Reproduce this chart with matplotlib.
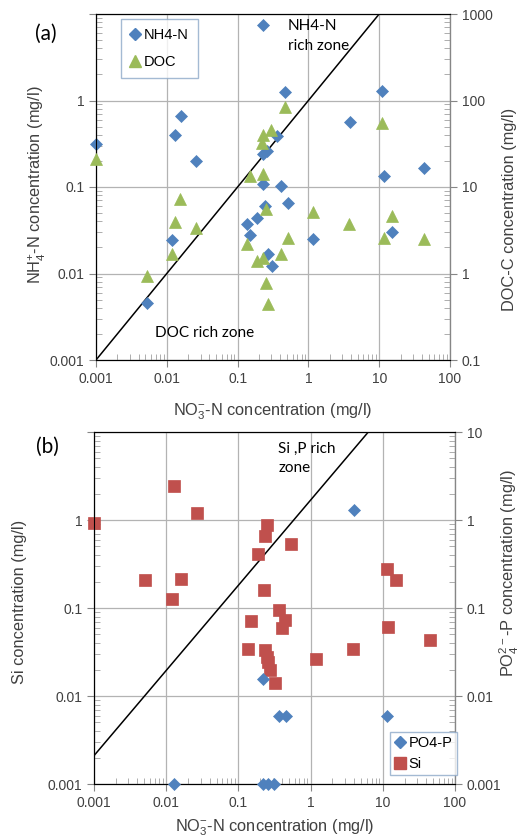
import matplotlib
matplotlib.use('Agg')
import matplotlib.pyplot as plt
from matplotlib.ticker import FixedLocator, FuncFormatter, LogLocator, NullFormatter
from matplotlib.lines import Line2D

plt.rcParams['font.family'] = ['Liberation Sans', 'DejaVu Sans']
plt.rcParams['mathtext.fontset'] = 'custom'
plt.rcParams['mathtext.rm'] = 'Liberation Sans'
plt.rcParams['mathtext.it'] = 'Liberation Sans'

# panel (a): NO3-N vs NH4-N (left axis) and DOC (right axis)
nh4_no3 = [0.001, 0.013, 0.016, 0.026, 0.23, 0.46, 11, 3.9, 11.7, 43, 0.36, 0.26, 0.23,
           0.23, 0.41, 0.52, 0.24, 0.186, 0.134, 0.15, 1.17, 0.27, 0.31, 0.012, 0.0052, 15.3]
nh4 = [0.31, 0.40, 0.67, 0.20, 7.5, 1.27, 1.29, 0.56, 0.133, 0.164, 0.39, 0.26, 0.24,
       0.107, 0.104, 0.065, 0.061, 0.044, 0.037, 0.028, 0.025, 0.0166, 0.0122, 0.0247, 0.0046, 0.030]

doc_no3 = [0.001, 0.0153, 0.013, 0.026, 0.0117, 0.0052, 0.46, 0.30, 0.23, 0.22, 0.15, 0.23, 0.25,
           1.17, 0.134, 0.52, 0.186, 0.23, 0.41, 0.25, 0.27, 11, 3.7, 15, 11.7, 43]
doc = [21, 7.2, 3.9, 3.4, 1.7, 0.93, 84, 46, 40, 32, 13.3, 14, 5.5,
       5.2, 2.2, 2.6, 1.4, 1.5, 1.66, 0.78, 0.44, 55, 3.7, 4.6, 2.6, 2.5]

line_a_x = [0.001, 10]
line_a_y = [0.001, 10]

# panel (b): NO3-N vs Si (left axis) and PO4-P (right axis)
si_no3 = [0.001, 0.0129, 0.0264, 0.247, 0.233, 0.53, 0.189, 0.0051, 0.016, 0.0119, 0.226, 11.6,
          15.2, 0.37, 0.15, 0.44, 0.40, 11.9, 45, 3.9, 1.19, 0.137, 0.233, 0.25, 0.26, 0.27, 0.32]
si = [0.92, 2.45, 1.2, 0.885, 0.65, 0.54, 0.41, 0.21, 0.213, 0.128, 0.16, 0.277,
      0.21, 0.096, 0.0705, 0.073, 0.059, 0.061, 0.043, 0.034, 0.026, 0.034, 0.0335, 0.028, 0.0243, 0.0199, 0.0141]

po4_no3 = [4.0, 0.217, 0.37, 0.46, 11.3, 0.0128, 0.22, 0.26, 0.31]
po4 = [1.31, 0.0156, 0.006, 0.006, 0.006, 0.001, 0.001, 0.001, 0.001]

line_b_x = [0.001, 6.3]
line_b_y = [0.0021, 10]

BLUE = '#4F81BD'
GREEN = '#9BBB59'
RED = '#C0504D'
GRID = '#B3B3B3'
TXT = '#404040'
LBL = 11.8
fmt = FuncFormatter(lambda v, p: '%g' % v)


def style_axis(ax, which='y'):
    axis = ax.yaxis if which == 'y' else ax.xaxis
    axis.set_minor_locator(LogLocator(base=10, subs=range(2, 10), numticks=20))
    axis.set_minor_formatter(NullFormatter())
    ax.tick_params(axis=which, which='major', direction='out', length=5, color='#868686',
                   labelsize=10, labelcolor=TXT, width=0.8)
    ax.tick_params(axis=which, which='minor', direction='in', length=4, color='#A0A0A0', width=0.6)


def setup(ax, ylim, yticks, ylabels_shown):
    ax.set_xscale('log')
    ax.set_yscale('log')
    ax.set_xlim(0.001, 100)
    ax.set_ylim(*ylim)
    ax.xaxis.set_major_locator(FixedLocator([0.001, 0.01, 0.1, 1, 10, 100]))
    ax.xaxis.set_major_formatter(fmt)
    ax.yaxis.set_major_locator(FixedLocator(yticks))
    ax.yaxis.set_major_formatter(FuncFormatter(
        lambda v, p: ('%g' % v) if v in ylabels_shown else ''))
    style_axis(ax, 'x')
    style_axis(ax, 'y')
    ax.grid(True, which='major', color=GRID, linewidth=0.9)
    for s in ax.spines.values():
        s.set_color('#868686')
        s.set_linewidth(0.9)


fig = plt.figure(figsize=(5.22, 8.39), dpi=100)

# ---- panel (a)
ax1 = fig.add_axes([96 / 522, 1 - 360 / 839, 354 / 522, 346 / 839])
setup(ax1, (0.001, 10), [0.001, 0.01, 0.1, 1, 10], [0.001, 0.01, 0.1, 1])
ax1.plot(line_a_x, line_a_y, color='black', lw=1.1, zorder=2)
ax1.plot(nh4_no3, nh4, 'D', color=BLUE, ms=6.5, mec=BLUE, mew=0.5, clip_on=False, zorder=3)

ax1r = ax1.twinx()
ax1r.set_yscale('log')
ax1r.set_ylim(0.1, 1000)
ax1r.yaxis.set_major_locator(FixedLocator([0.1, 1, 10, 100, 1000]))
ax1r.yaxis.set_major_formatter(fmt)
style_axis(ax1r, 'y')
ax1r.spines['right'].set_color('#868686')
ax1r.plot(doc_no3, doc, '^', color=GREEN, ms=9, mec=GREEN, mew=0.5, clip_on=False, zorder=3)

h_a = [Line2D([], [], marker='D', ls='', color=BLUE, ms=6),
       Line2D([], [], marker='^', ls='', color=GREEN, ms=8)]
leg = ax1r.legend(h_a, ['NH4-N', 'DOC'], loc='upper left', bbox_to_anchor=(0.07, 0.985),
                  fontsize=10.5, frameon=True, fancybox=False, handlelength=0.8,
                  handletextpad=0.2, labelspacing=0.9, borderpad=0.6, borderaxespad=0)
leg.get_frame().set_edgecolor('#8EA9C8')
leg.get_frame().set_linewidth(1.0)

ax1.text(0.5, -0.150, 'NO$_3^{-}$-N concentration (mg/l)', transform=ax1.transAxes,
         ha='center', va='center', fontsize=LBL, color=TXT)
ax1.text(-0.164, 0.506, 'NH$_4^{+}$-N concentration (mg/l)', transform=ax1.transAxes,
         ha='center', va='center', rotation=90, fontsize=LBL, color=TXT)
ax1.text(1.167, 0.434, 'DOC-C concentration (mg/l)', transform=ax1.transAxes,
         ha='center', va='center', rotation=90, fontsize=LBL, color=TXT)
ax1.text(-0.141, 0.942, '(a)', transform=ax1.transAxes, ha='center', va='center',
         fontsize=15, family='Lato', color='black')
ax1.text(0.542, 0.985, 'NH4-N\nrich zone', transform=ax1.transAxes, ha='left', va='top',
         fontsize=11, family='Lato', linespacing=1.5, color='black')
ax1.text(0.167, 0.078, 'DOC rich zone', transform=ax1.transAxes, ha='left', va='center',
         fontsize=11, family='Lato', color='black')

# ---- panel (b)
ax2 = fig.add_axes([94 / 522, 1 - 784 / 839, 361 / 522, 352 / 839])
setup(ax2, (0.001, 10), [0.001, 0.01, 0.1, 1, 10], [0.001, 0.01, 0.1, 1])
ax2.plot(line_b_x, line_b_y, color='black', lw=1.1, zorder=2)
ax2.plot(si_no3, si, 's', color=RED, ms=9, mec=RED, mew=0.5, clip_on=False, zorder=3)

ax2r = ax2.twinx()
ax2r.set_yscale('log')
ax2r.set_ylim(0.001, 10)
ax2r.yaxis.set_major_locator(FixedLocator([0.001, 0.01, 0.1, 1, 10]))
ax2r.yaxis.set_major_formatter(fmt)
style_axis(ax2r, 'y')
ax2r.spines['right'].set_color('#868686')
ax2r.plot(po4_no3, po4, 'D', color=BLUE, ms=6.5, mec=BLUE, mew=0.5, clip_on=False, zorder=3)

h_b = [Line2D([], [], marker='D', ls='', color=BLUE, ms=6),
       Line2D([], [], marker='s', ls='', color=RED, ms=8)]
leg2 = ax2r.legend(h_b, ['PO4-P', 'Si'], loc='lower right', bbox_to_anchor=(1.005, 0.025),
                   fontsize=10.5, frameon=True, fancybox=False, handlelength=0.8,
                   handletextpad=0.2, labelspacing=0.45, borderpad=0.3, borderaxespad=0)
leg2.get_frame().set_edgecolor('#8EA9C8')
leg2.get_frame().set_linewidth(1.0)

ax2.text(0.5, -0.125, 'NO$_3^{-}$-N concentration (mg/l)', transform=ax2.transAxes,
         ha='center', va='center', fontsize=LBL, color=TXT)
ax2.text(-0.205, 0.517, 'Si concentration (mg/l)', transform=ax2.transAxes,
         ha='center', va='center', rotation=90, fontsize=LBL, color=TXT)
ax2.text(1.150, 0.60, 'PO$_4^{2-}$-P concentration (mg/l)', transform=ax2.transAxes,
         ha='center', va='center', rotation=90, fontsize=LBL, color=TXT)
ax2.text(-0.130, 0.957, '(b)', transform=ax2.transAxes, ha='center', va='center',
         fontsize=15, family='Lato', color='black')
ax2.text(0.510, 0.972, 'Si ,P rich\nzone', transform=ax2.transAxes, ha='left', va='top',
         fontsize=11, family='Lato', linespacing=1.5, color='black')

fig.savefig('out.png', dpi=100)
